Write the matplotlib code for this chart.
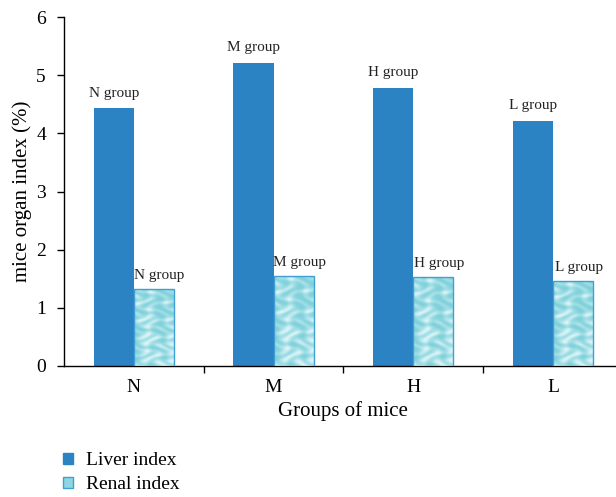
import numpy as np
import matplotlib
matplotlib.use("Agg")
import matplotlib.pyplot as plt
from matplotlib.patches import Patch

categories = ["N", "M", "H", "L"]
liver_index = [4.43, 5.21, 4.78, 4.21]
renal_index = [1.32, 1.55, 1.53, 1.46]
liver_labels = ["N group", "M group", "H group", "L group"]
renal_labels = ["N group", "M group", "H group", "L group"]

plt.rcParams['font.family'] = ['Liberation Serif', 'DejaVu Serif']

fig = plt.figure(figsize=(6.16, 4.97), dpi=100)
ax = fig.add_axes([64/616, 1-366/497, 4*139.7/616, (366-17)/497])

liver_color = "#2b83c4"
renal_edge = "#3f9fd6"
w = 0.287
x = np.arange(len(categories))

lb = ax.bar(x - w/2, liver_index, width=w, color=liver_color, zorder=2)
rb = ax.bar(x + w/2, renal_index, width=w, color="none", edgecolor=renal_edge, linewidth=1.0, zorder=4)

# water-like texture for renal bars (deterministic pattern)
ny, nx = 240, 60
yy, xx = np.mgrid[0:ny, 0:nx]
pat = (np.sin(xx/6.0 + np.sin(yy/9.0)*1.8) * np.cos(yy/8.0 + np.sin(xx/7.0)*1.2) + 1) / 2
pat = pat**1.5
base = np.array([0.50, 0.82, 0.86])
light = np.array([0.86, 0.96, 0.97])
tex = base[None, None, :] * (1-pat[..., None]) + light[None, None, :] * pat[..., None]
for bar in rb:
    x0 = bar.get_x()
    bw, bh = bar.get_width(), bar.get_height()
    im = ax.imshow(tex, extent=[x0, x0+bw, 0, bh], aspect='auto', zorder=3, origin='lower', interpolation='bilinear')
    im.set_clip_path(bar)

for xi, v, t in zip(x, liver_index, liver_labels):
    ax.text(xi - w/2, v + 0.15, t, ha='center', va='bottom', fontsize=11, color='#222222')
for xi, v, t in zip(x, renal_index, renal_labels):
    ax.text(xi + w/2 + 0.04, v + 0.12, t, ha='center', va='bottom', fontsize=11, color='#222222')

ax.set_xlim(-0.5, 3.5)
ax.set_ylim(0, 6)
ax.set_yticks(range(0, 7))
ax.set_xticks(x)
ax.set_xticklabels(categories)
ax.set_xticks(np.arange(0.5, 3.6, 1.0), minor=True)
ax.tick_params(axis='x', which='major', length=0, labelsize=14, pad=9)
ax.tick_params(axis='x', which='minor', length=5, width=1)
ax.tick_params(axis='y', length=5, width=1, labelsize=14, pad=8)
for s in ['top', 'right']:
    ax.spines[s].set_visible(False)
ax.spines['left'].set_linewidth(1.0)
ax.spines['bottom'].set_linewidth(1.0)
ax.set_ylabel("mice organ index (%)", fontsize=15, labelpad=3)
ax.set_xlabel("Groups of mice", fontsize=15, labelpad=4)

handles = [Patch(facecolor=liver_color, edgecolor=liver_color, label="Liver index"),
           Patch(facecolor="#8fd6e0", edgecolor=renal_edge, label="Renal index")]
fig.legend(handles=handles, loc='upper left', bbox_to_anchor=(63/616, 1-452/497),
           frameon=False, fontsize=14, handlelength=0.5, handleheight=0.5,
           handletextpad=0.7, labelspacing=0.38, borderpad=0, borderaxespad=0)

fig.savefig("out.png", dpi=100)
